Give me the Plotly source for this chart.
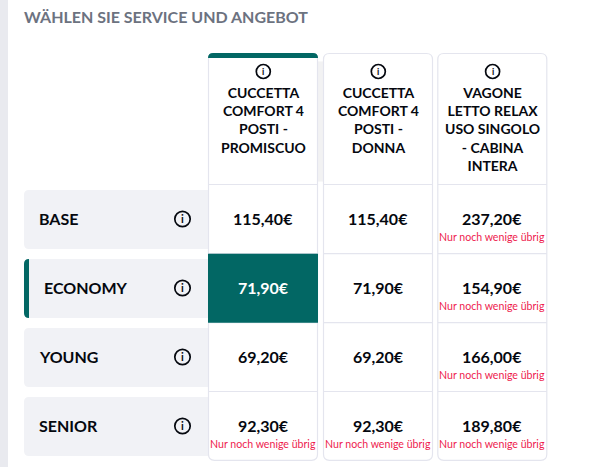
import plotly.graph_objects as go

title = "WÄHLEN SIE SERVICE UND ANGEBOT"
services = ["CUCCETTA<br>COMFORT 4<br>POSTI -<br>PROMISCUO",
            "CUCCETTA<br>COMFORT 4<br>POSTI -<br>DONNA",
            "VAGONE<br>LETTO RELAX<br>USO SINGOLO<br>- CABINA<br>INTERA"]
offers = ["BASE", "ECONOMY", "YOUNG", "SENIOR"]
prices = [["115,40€", "115,40€", "237,20€"],
          ["71,90€", "71,90€", "154,90€"],
          ["69,20€", "69,20€", "166,00€"],
          ["92,30€", "92,30€", "189,80€"]]
few_left = [[False, False, True],
            [False, False, True],
            [False, False, True],
            [True, True, True]]
few_text = "Nur noch wenige übrig"
selected_row, selected_col = 1, 0

TEAL = "#026764"; BORDER = "#e4e5ee"; PANEL = "#f1f2f6"; INK = "#05080f"; RED = "#ee1c4e"
W, H = 613, 467
col_l = [208.5, 323.5, 437.8]; col_w = 109
top, head_b = 53.5, 184.5
row_t = [184.5, 253.7, 322.7, 391.5]; row_b = [253.7, 322.7, 391.5, 460.3]
label_t = [190, 259, 328, 397]; label_h = 59
FF = "Lato, sans-serif"

def rrect(x0, y0, x1, y1, tl=0, tr=0, br=0, bl=0):
    return (f"M{x0+tl},{y0} L{x1-tr},{y0} Q{x1},{y0} {x1},{y0+tr} L{x1},{y1-br} Q{x1},{y1} {x1-br},{y1} "
            f"L{x0+bl},{y1} Q{x0},{y1} {x0},{y1-bl} L{x0},{y0+tl} Q{x0},{y0} {x0+tl},{y0} Z")

shapes, ann = [], []
def fill(path, color, line=None, lw=0):
    shapes.append(dict(type="path", path=path, fillcolor=color, layer="below",
                       line=dict(color=line or color, width=lw)))
def text(x, y, s, size, color, weight=700, anchor="center"):
    ann.append(dict(x=x, y=y, text=s, showarrow=False, xanchor=anchor, yanchor="middle", align="center",
                    borderpad=0, font=dict(family=FF, size=size, color=color, weight=weight)))
def icon(cx, cy, r, size):
    shapes.append(dict(type="circle", x0=cx-r, x1=cx+r, y0=cy-r, y1=cy+r, layer="above",
                       line=dict(color=INK, width=1.7), fillcolor="rgba(0,0,0,0)"))
    text(cx, cy-0.3, "i", size, INK, 700)

# page strip and title
fill(rrect(0, 0, 8, H), "#e9eaef")
text(22.7, 16.5, title, 16, "#6c7280", 700, "left")

# offer labels
for i, o in enumerate(offers):
    t = label_t[i]
    fill(rrect(24, t, 214, t+label_h, 5, 0, 0, 5), PANEL)
    if i == selected_row:
        fill(rrect(24, t, 29, t+label_h, 5, 0, 0, 5), TEAL)
    text(43.3 if i == selected_row else 38.3, t+28.5, o, 16, INK, 700, "left")
    icon(182.5, t+29, 7.7, 11)

# header shadow next to the selected column
for k, op in enumerate([0.035, 0.03, 0.025, 0.02, 0.015, 0.01]):
    fill(rrect(col_l[0]+col_w, top+8, col_l[0]+col_w+3*(k+1)+3, head_b-3), f"rgba(60,60,70,{op/2})")

# service columns
for c, s in enumerate(services):
    x0 = col_l[c]; x1 = x0+col_w; cx = x0+col_w/2
    fill(rrect(x0, top, x1, row_b[-1], 6, 6, 6, 6), "#ffffff", BORDER, 1.2)
    for y in [head_b] + row_b[:-1]:
        shapes.append(dict(type="line", x0=x0, x1=x1, y0=y, y1=y, layer="below",
                           line=dict(color=BORDER, width=1.2)))
    if c == selected_col:
        fill(rrect(x0-0.5, top-0.5, x1+0.5, top+4.5, 5, 5, 0, 0), TEAL)
    n = s.count("<br>")+1
    text(cx, 93+(n-1)*9, s, 14, INK, 700)
    icon(cx+0.3, 71.5, 7, 9)
    for r, p in enumerate(prices):
        cy = label_t[r]+29
        if r == selected_row and c == selected_col:
            fill(rrect(x0-0.5, row_t[r], x1+0.5, row_b[r]), TEAL)
        color = "#ffffff" if (r == selected_row and c == selected_col) else INK
        text(cx, cy-1, p[c], 16, color, 700)
        if few_left[r][c]:
            text(cx-0.5, cy+17.5, few_text, 10.6, RED, 400)

fig = go.Figure()
fig.add_trace(go.Scatter(x=[0, W], y=[0, H], mode="markers", marker=dict(opacity=0), hoverinfo="skip", showlegend=False))
fig.update_layout(width=W, height=H, margin=dict(l=0, r=0, t=0, b=0), paper_bgcolor="#ffffff", plot_bgcolor="#ffffff",
                  shapes=shapes, annotations=ann, showlegend=False,
                  xaxis=dict(range=[0, W], visible=False, fixedrange=True),
                  yaxis=dict(range=[H, 0], visible=False, fixedrange=True))
fig.write_html("out.html", post_script="document.body.style.margin='0';", config=dict(displayModeBar=False))
